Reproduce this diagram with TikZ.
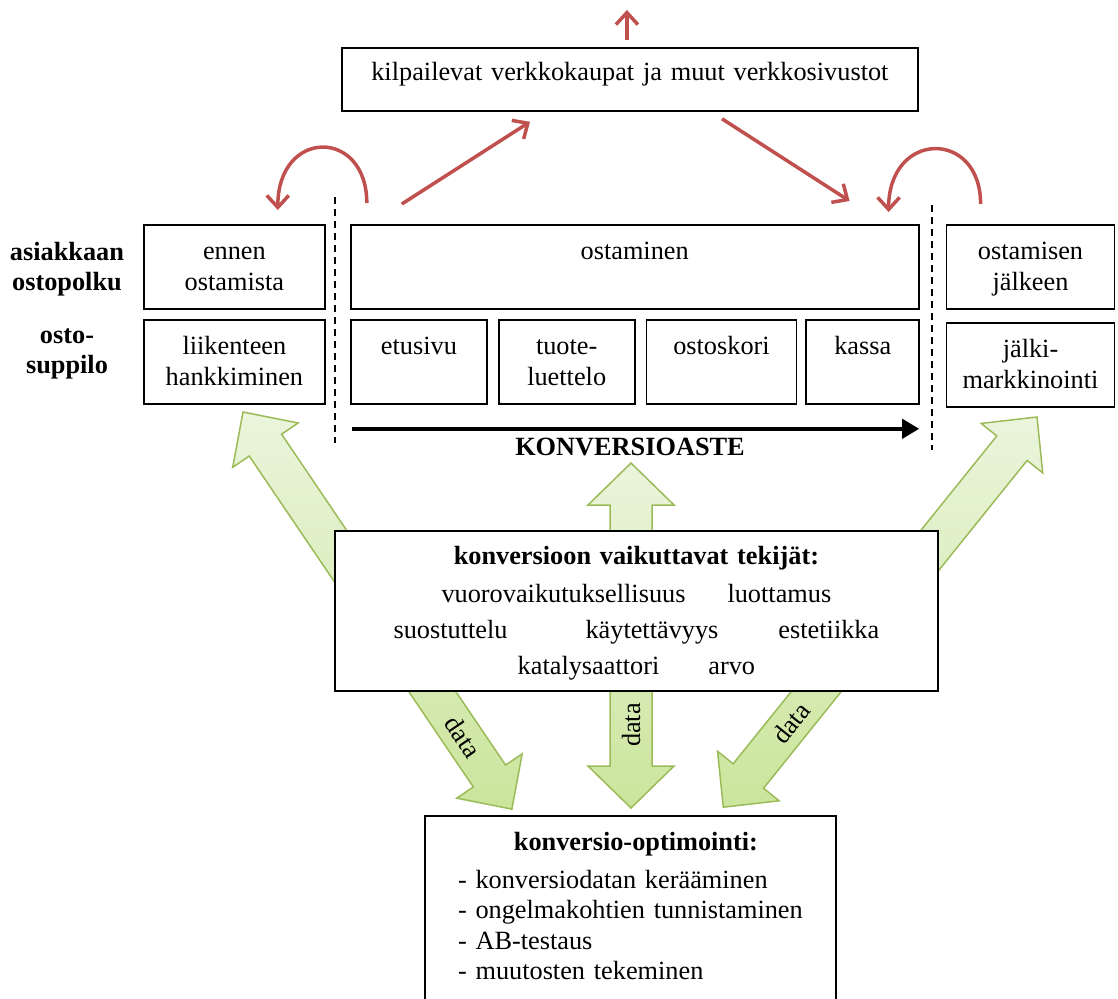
\documentclass[tikz,border=0pt]{standalone}
\usepackage{fontspec}
\setmainfont{Liberation Serif}
\usepackage{tikz}
\usetikzlibrary{positioning, calc, arrows.meta}
\definecolor{flowline}{HTML}{9BBB59}
\definecolor{flowtop}{HTML}{EAF5DC}
\definecolor{flowbot}{HTML}{CBE59C}
\definecolor{loopred}{HTML}{C0504D}
\newcommand{\bodyfont}{\fontsize{26.3pt}{30.5pt}\selectfont}
% block arrow with a head at both ends: length, shaft half width, head half width, head length
\newcommand{\blockarrow}[4]{(0,0) -- (#4,#3) -- (#4,#2) -- (#1-#4,#2) -- (#1-#4,#3) -- (#1,0)
	-- (#1-#4,-#3) -- (#1-#4,-#2) -- (#4,-#2) -- (#4,-#3) -- cycle}
\tikzset{
	every text node part/.style= {
		align=center
	},
	stage/.style= {
		draw, line width=1.8pt, inner sep=0pt,
		text width=#1, text height=35pt, text depth=49pt
	},
	panel/.style= {
		draw, fill=white, line width=1.8pt, inner sep=0pt, anchor=north west
	},
	rowlabel/.style={font=\bodyfont\bfseries, text width=130pt, inner sep=0pt, anchor=base},
	flow/.style={draw=flowline, line width=1.5pt, top color=flowtop, bottom color=flowbot},
	flowlabel/.style={inner sep=0pt},
	redline/.style={loopred, line width=3.5pt, -{Straight Barb[length=12pt,width=22pt]}},
	divider/.style={line width=2pt, dash pattern=on 7pt off 5pt},
}

\begin{document}
\begin{tikzpicture}[x=1pt, y=-1pt, font=\bodyfont]
	\useasboundingbox (0,0) rectangle (1118,998);
	\clip (0,0) rectangle (1118,998);

	\node (rival) [panel, text width=576pt, text height=33pt, text depth=30pt] at (341,47) {kilpailevat verkkokaupat ja muut verkkosivustot};

	\node (journey) [rowlabel] at (67,260) {asiakkaan\\ostopolku};
	\node (funnel) [rowlabel] at (67,343) {osto-\\suppilo};

	\node (ennen) [stage=181pt, anchor=north west] at (143,224) {ennen\\ostamista};
	\node (ostaminen) [stage=568pt, right=24pt of ennen] {ostaminen};
	\node (jalkeen) [stage=168pt, right=26pt of ostaminen] {ostamisen\\jälkeen};

	\node (traffic) [stage=181pt, below=9pt of ennen] {liikenteen\\hankkiminen};
	\node (etusivu) [stage=136pt, anchor=north west] at (350,319) {etusivu};
	\node (luettelo) [stage=136pt, right=10pt of etusivu] {tuote-\\luettelo};
	\node (ostoskori) [stage=150pt, right=10pt of luettelo] {ostoskori};
	\node (kassa) [stage=113pt, right=8pt of ostoskori] {kassa};
	\node (jalkimark) [stage=168pt, below=12pt of jalkeen] {jälki-\\markkinointi};

	\draw[divider] (335,197) -- (335,443);
	\draw[divider] (932,205) -- (932,450);

	\draw[line width=4pt, -{Triangle[length=17pt,width=19pt]}] ($(etusivu.south west)+(2,24)$) -- ($(kassa.south east)+(-1,24)$);
	\node (rate) [font=\bodyfont\bfseries, anchor=base] at (630,455) {KONVERSIOASTE};

	\draw[redline] ($(rival.north)+(-3,-7)$) -- ++(0,-30);
	\draw[redline] ($(ostaminen.north west)+(52,-20)$) -- ($(rival.south west)+(189,10)$);
	\draw[redline] ($(rival.south west)+(381,7)$) -- ($(ostaminen.north east)+(-70,-23)$);
	\draw[redline] ($(ostaminen.north west)+(17,-21)$) .. controls +(0,-75) and +(0,-82) .. ($(ennen.north east)+(-48,-14)$);
	\draw[redline] ($(jalkeen.north west)+(35,-20)$) .. controls +(0,-75) and +(0,-82) .. ($(ostaminen.north east)+(-31,-12)$);

	\coordinate (flowL) at (243,412);
	\coordinate (flowM) at (631,463);
	\coordinate (flowR) at (1037,417);
	\draw[flow, shift={(flowL)}, rotate=-55.9] \blockarrow{479.6}{19.5}{39.5}{40};
	\draw[flow, shift={(flowM)}, rotate=-90] \blockarrow{345}{21}{43}{42};
	\draw[flow, shift={(flowR)}, rotate=-128.8] \blockarrow{500.7}{19.5}{39.5}{40};
	\node (dataL) [flowlabel, rotate=-55.9] at (463,737) {data};
	\node (dataM) [flowlabel, rotate=90] at (631,725) {data};
	\node (dataR) [flowlabel, rotate=51.2] at (791,723) {data};

	\node (factors) [panel, text width=603pt, text height=34pt, text depth=126pt, font=\fontsize{26.3pt}{36pt}\selectfont] at (334,530) {\textbf{konversioon vaikuttavat tekijät:}\\[2pt]
		vuorovaikutuksellisuus\hspace{42pt}luottamus\\
		suostuttelu\hspace{78pt}käytettävyys\hspace{60pt}estetiikka\\
		katalysaattori\hspace{49pt}arvo};

	\node (optim) [panel, text width=411pt, text height=35pt, text depth=200pt] at (424,815) {\hspace*{11pt}\textbf{konversio-optimointi:}\\[7pt]
		\begin{tabular}[t]{@{}l@{}}
			- konversiodatan kerääminen\\
			- ongelmakohtien tunnistaminen\\
			- AB-testaus\\
			- muutosten tekeminen
		\end{tabular}};
\end{tikzpicture}
\end{document}
